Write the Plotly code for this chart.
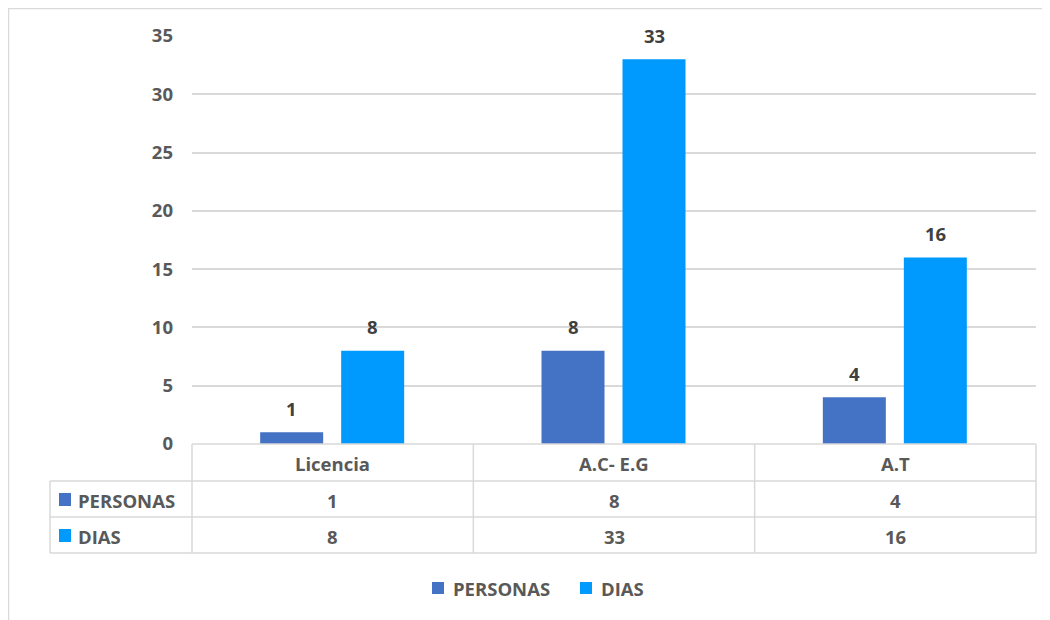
import plotly.graph_objects as go

categories = ["Licencia", "A.C- E.G", "A.T"]
personas = [1, 8, 4]
dias = [8, 33, 16]
series_names = ["PERSONAS", "DIAS"]
y_ticks = [0, 5, 10, 15, 20, 25, 30, 35]

# page body has an 8px margin: the figure occupies 8..1050 x 8..620
OFF = 8
W, H = 1050 - OFF, 620 - OFF
C_PERS = "#4472C4"
C_DIAS = "#009AFF"
GRID = "#D9D9D9"
TXT = "#595959"
LBL = "#404040"
FONT = "Open Sans"
FS = 18.5
WT = "bold"


def px(x):
    return (x - OFF) / W


def py(y):
    return 1 - (y - OFF) / H


X0, X1 = 192, 1036
Y0, Y35 = 444, 36
cat_w = (X1 - X0) / len(categories)

bar_w = 63 / cat_w
off_p = -72.5 / cat_w
off_d = 8.5 / cat_w

colors = [C_PERS, C_DIAS]

fig = go.Figure()
fig.add_trace(go.Bar(name=series_names[0], x=categories, y=personas,
                     marker=dict(color=C_PERS, line=dict(width=0)),
                     width=bar_w, offset=off_p, showlegend=False))
fig.add_trace(go.Bar(name=series_names[1], x=categories, y=dias,
                     marker=dict(color=C_DIAS, line=dict(width=0)),
                     width=bar_w, offset=off_d, showlegend=False))

ann = []
shapes = []

# data labels
for vals, off in ((personas, off_p), (dias, off_d)):
    for c, v in zip(categories, vals):
        ann.append(dict(x=c, y=v, xref="x", yref="y", text=str(v),
                        showarrow=False, xshift=(off + bar_w / 2) * cat_w,
                        yshift=24, yanchor="middle", xanchor="center",
                        font=dict(family=FONT, size=FS, color=LBL, weight=WT)))


def hline(x0, x1, y):
    shapes.append(dict(type="line", xref="paper", yref="paper",
                       x0=px(x0), x1=px(x1), y0=py(y), y1=py(y),
                       line=dict(color=GRID, width=1.5)))


def vline(x, y0, y1):
    shapes.append(dict(type="line", xref="paper", yref="paper",
                       x0=px(x), x1=px(x), y0=py(y0), y1=py(y1),
                       line=dict(color=GRID, width=1.5)))


R0, R1, R2, R3 = 444, 481, 517, 553
TL = 50
hline(X0, X1, R0)
for r in (R1, R2, R3):
    hline(TL, X1, r)
vline(TL, R1, R3)
for i in range(len(categories) + 1):
    vline(X0 + i * cat_w, R0, R3)

# outer chart border (top and left visible)
hline(8, 1050, 8.5)
vline(8.5, 8, 620)

# table texts
tfont = dict(family=FONT, size=FS, color=TXT, weight=WT)
for c in categories:
    ann.append(dict(x=c, y=py((R0 + R1) / 2 + 1), xref="x", yref="paper",
                    text=c, showarrow=False, font=tfont,
                    xanchor="center", yanchor="middle"))
for vals, r0, r1 in ((personas, R1, R2), (dias, R2, R3)):
    for c, v in zip(categories, vals):
        ann.append(dict(x=c, y=py((r0 + r1) / 2 + 1), xref="x", yref="paper",
                        text=str(v), showarrow=False, font=tfont,
                        xanchor="center", yanchor="middle"))
for name, col, r0, r1 in ((series_names[0], C_PERS, R1, R2),
                          (series_names[1], C_DIAS, R2, R3)):
    yc = (r0 + r1) / 2
    shapes.append(dict(type="rect", xref="paper", yref="paper",
                       x0=px(59), x1=px(71), y0=py(yc - 6), y1=py(yc + 7),
                       fillcolor=col, line=dict(width=0)))
    ann.append(dict(x=px(76), y=py(yc + 1), xref="paper", yref="paper",
                    xanchor="left", yanchor="middle", text=name,
                    showarrow=False, font=tfont))

# bottom legend
LEG_Y = 588
leg_x = [432, 580]
for name, col, lx in zip(series_names, colors, leg_x):
    shapes.append(dict(type="rect", xref="paper", yref="paper",
                       x0=px(lx), x1=px(lx + 12), y0=py(LEG_Y - 6),
                       y1=py(LEG_Y + 6), fillcolor=col, line=dict(width=0)))
    ann.append(dict(x=px(lx + 19), y=py(LEG_Y), xref="paper", yref="paper",
                    xanchor="left", yanchor="middle", text=name,
                    showarrow=False, font=tfont))

fig.update_layout(
    width=W, height=H,
    margin=dict(l=0, r=0, t=0, b=0, pad=0, autoexpand=False),
    paper_bgcolor="white", plot_bgcolor="white",
    barmode="overlay", showlegend=False,
    font=dict(family=FONT, size=FS, color=TXT, weight=WT),
    xaxis=dict(domain=[px(X0), px(X1)], showticklabels=False, showgrid=False,
               zeroline=False, showline=False, range=[-0.5, 2.5]),
    yaxis=dict(domain=[py(Y0), py(Y35)], range=[0, 35], tickvals=y_ticks,
               showgrid=True, gridcolor=GRID, gridwidth=1.5, zeroline=False,
               showline=False, ticks="", ticklabelstandoff=18,
               automargin=False,
               tickfont=dict(family=FONT, size=FS, color=TXT, weight=WT)),
    annotations=ann, shapes=shapes,
)

fig.write_html("out.html")
